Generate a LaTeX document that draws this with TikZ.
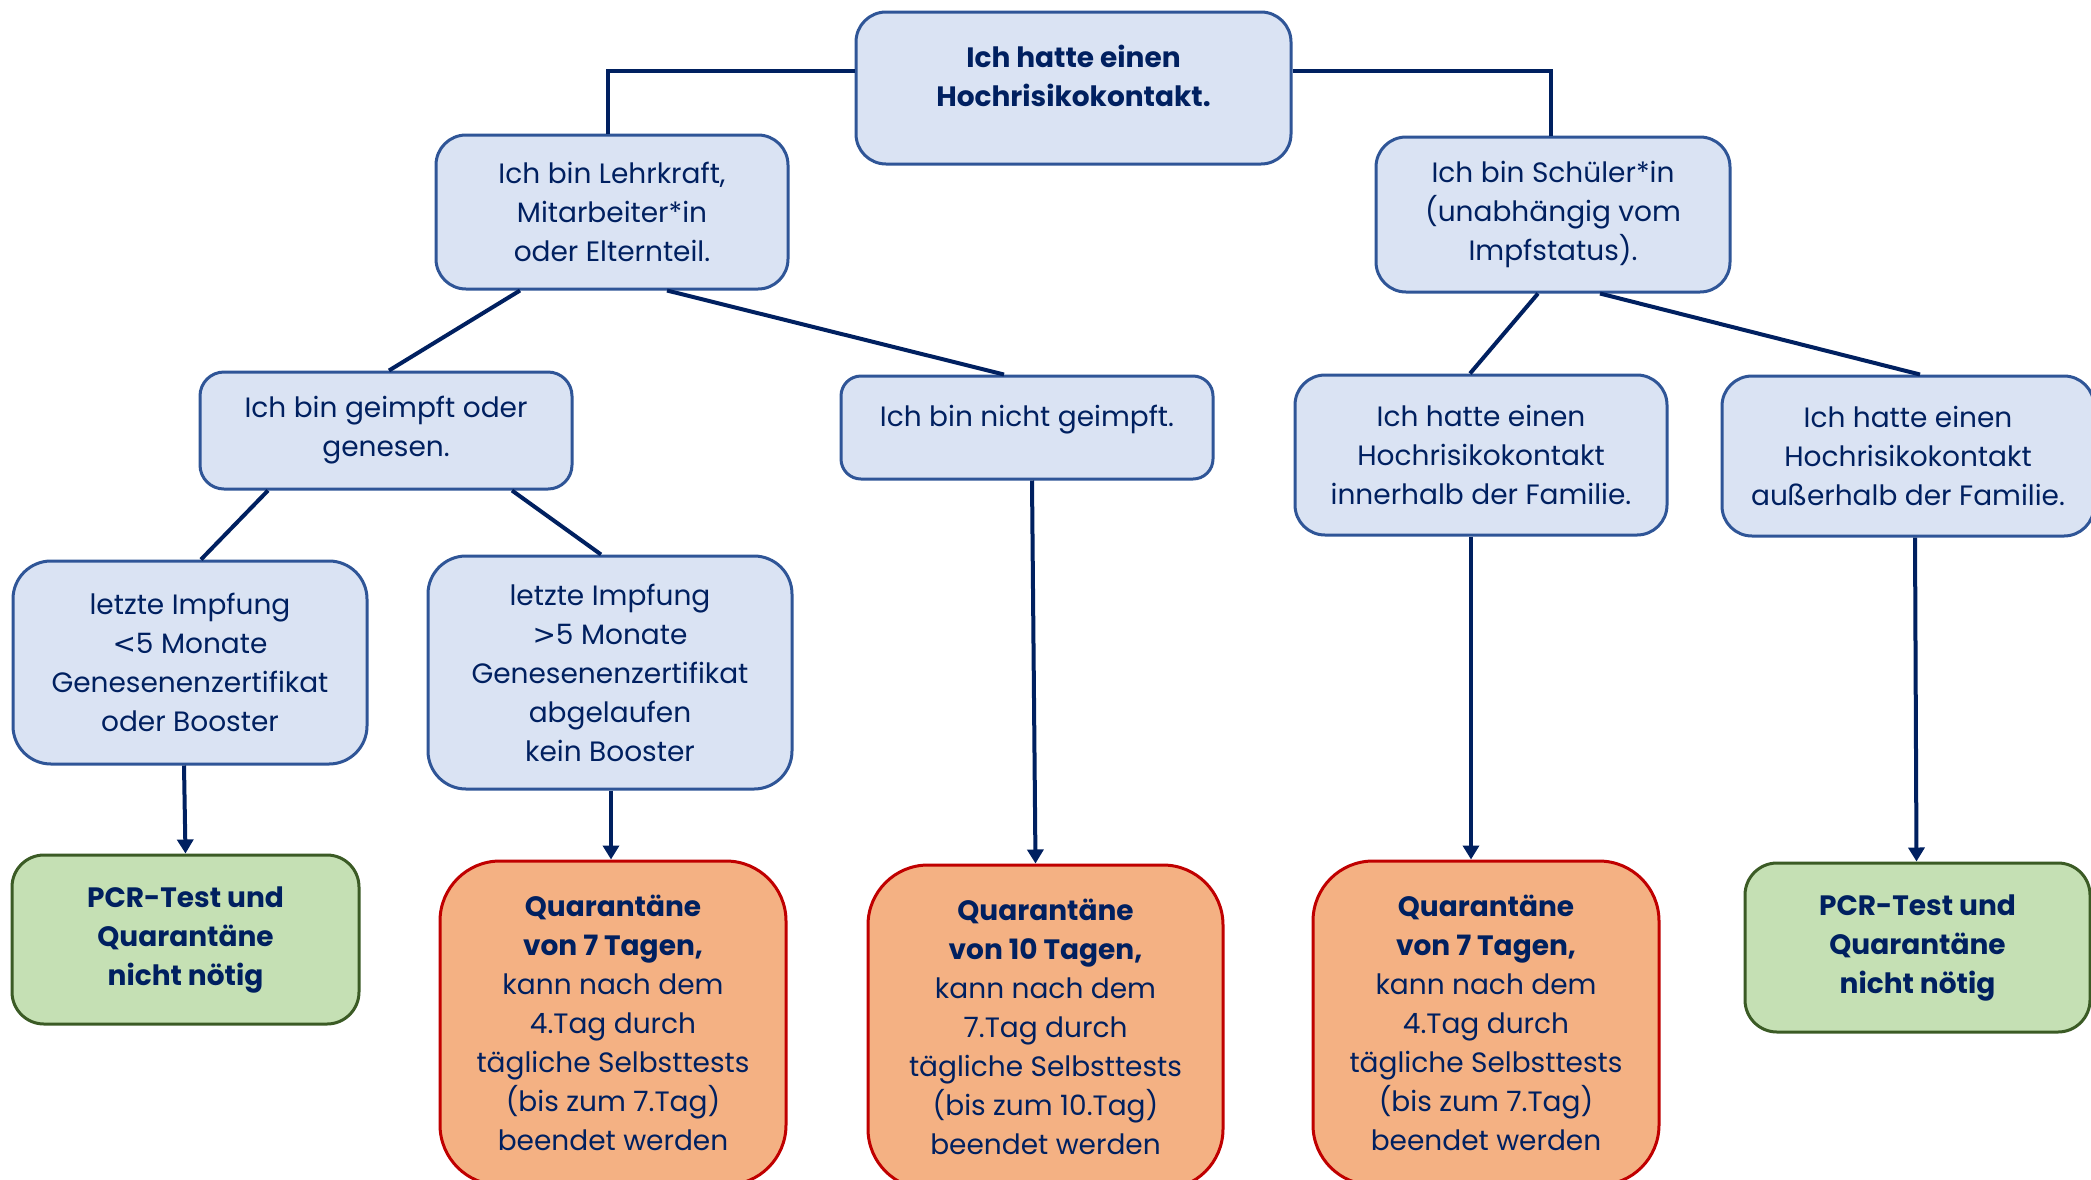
\documentclass[tikz,border=0pt]{standalone}
\usepackage{fontspec}
\setmainfont{Poppins}
\newfontfamily\symfnt{DejaVu Sans}
\usetikzlibrary{arrows.meta}
\definecolor{bfill}{HTML}{DAE3F3}
\definecolor{bdraw}{HTML}{2F5597}
\definecolor{navy}{HTML}{002060}
\definecolor{gfill}{HTML}{C5E0B4}
\definecolor{gdraw}{HTML}{3B5B25}
\definecolor{ofill}{HTML}{F4B183}
\definecolor{odraw}{HTML}{C00000}
\tikzset{
  box/.style={draw, line width=3pt, align=center, inner sep=0pt, text=navy,
    font=\fontsize{28}{39}\selectfont},
  bluebox/.style={box, fill=bfill, draw=bdraw, rounded corners=30pt},
  greenbox/.style={box, fill=gfill, draw=gdraw, rounded corners=32pt, font=\fontsize{28}{39}\selectfont\bfseries},
  orangebox/.style={box, fill=ofill, draw=odraw, rounded corners=60pt},
  plaintext/.style={align=center, inner sep=0pt, text=navy, font=\fontsize{28}{39}\selectfont},
  conn/.style={draw=navy, line width=4pt},
  arr/.style={conn, -{Triangle[width=16pt,length=14pt]}},
}
\begin{document}
\begin{tikzpicture}[x=1pt,y=-1pt]
\useasboundingbox (0,0) rectangle (2091,1179);
\clip (0,0) rectangle (2091,1179);
\fill[white] (0,0) rectangle (2091,1179);

\node[bluebox, minimum width=435pt, minimum height=152pt] (A) at (1073.5,88) {};
\node[plaintext, font=\fontsize{28}{39}\selectfont\bfseries] (At) at (1073.5,76) {Ich hatte einen\\Hochrisikokontakt.};
\node[bluebox, minimum width=352pt, minimum height=154pt] (B) at (612,212) {Ich bin Lehrkraft,\\Mitarbeiter*in\\oder Elternteil.};
\node[bluebox, minimum width=354pt, minimum height=155pt] (C) at (1553,214.5) {Ich bin Schüler*in\\(unabhängig vom\\Impfstatus).};
\node[bluebox, minimum width=372pt, minimum height=117pt, rounded corners=24pt] (D) at (386,430.5) {Ich bin geimpft oder\\genesen.};
\node[bluebox, minimum width=372pt, minimum height=103pt, rounded corners=20pt] (E) at (1027,427.5) {};
\node[plaintext] (Et) at (1027,420) {Ich bin nicht geimpft.};
\node[bluebox, minimum width=372pt, minimum height=160pt] (F) at (1481,455) {Ich hatte einen\\Hochrisikokontakt\\innerhalb der Familie.};
\node[bluebox, minimum width=372pt, minimum height=160pt] (G) at (1908,456) {Ich hatte einen\\Hochrisikokontakt\\außerhalb der Familie.};
\node[bluebox, minimum width=354pt, minimum height=203pt, rounded corners=38pt] (H) at (190,662.5) {letzte Impfung\\{\symfnt<}5 Monate\\Genesenenzertifikat\\oder Booster};
\node[bluebox, minimum width=364pt, minimum height=233pt, rounded corners=38pt] (I) at (610,672.5) {letzte Impfung\\{\symfnt>}5 Monate\\Genesenenzertifikat\\abgelaufen\\kein Booster};
\node[greenbox, minimum width=347pt, minimum height=169pt] (J) at (185.5,939.5) {PCR-Test und\\Quarantäne\\nicht nötig};
\node[orangebox, minimum width=346pt, minimum height=324pt] (K) at (613,1023) {\textbf{Quarantäne}\\\textbf{von 7 Tagen,}\\kann nach dem\\4.Tag durch\\tägliche Selbsttests\\(bis zum 7.Tag)\\beendet werden};
\node[orangebox, minimum width=355pt, minimum height=324pt] (L) at (1045.5,1027) {\textbf{Quarantäne}\\\textbf{von 10 Tagen,}\\kann nach dem\\7.Tag durch\\tägliche Selbsttests\\(bis zum 10.Tag)\\beendet werden};
\node[orangebox, minimum width=346pt, minimum height=324pt] (M) at (1486,1023) {\textbf{Quarantäne}\\\textbf{von 7 Tagen,}\\kann nach dem\\4.Tag durch\\tägliche Selbsttests\\(bis zum 7.Tag)\\beendet werden};
\node[greenbox, minimum width=345pt, minimum height=169pt] (N) at (1917.5,947.5) {PCR-Test und\\Quarantäne\\nicht nötig};

\draw[conn] ([yshift=17pt]A.west) -| ([xshift=-4pt]B.north);
\draw[conn] ([yshift=17pt]A.east) -| ([xshift=-2pt]C.north);
\draw[conn] ([xshift=-92pt]B.south) -- ([xshift=3pt]D.north);
\draw[conn] ([xshift=55pt]B.south) -- ([xshift=-23pt]E.north);
\draw[conn] ([xshift=-15pt]C.south) -- ([xshift=-11pt]F.north);
\draw[conn] ([xshift=47pt]C.south) -- ([xshift=12pt]G.north);
\draw[conn] ([xshift=-118pt]D.south) -- ([xshift=11pt]H.north);
\draw[conn] ([xshift=126pt]D.south) -- ([xshift=-9pt]I.north);
\draw[arr] ([xshift=-6pt]H.south) -- (J.north);
\draw[arr] ([xshift=1pt]I.south) -- ([xshift=-2pt]K.north);
\draw[arr] ([xshift=5pt]E.south) -- ([xshift=-10pt]L.north);
\draw[arr] ([xshift=-10pt]F.south) -- ([xshift=-15pt]M.north);
\draw[arr] ([xshift=7pt]G.south) -- ([xshift=-1pt]N.north);
\end{tikzpicture}
\end{document}
